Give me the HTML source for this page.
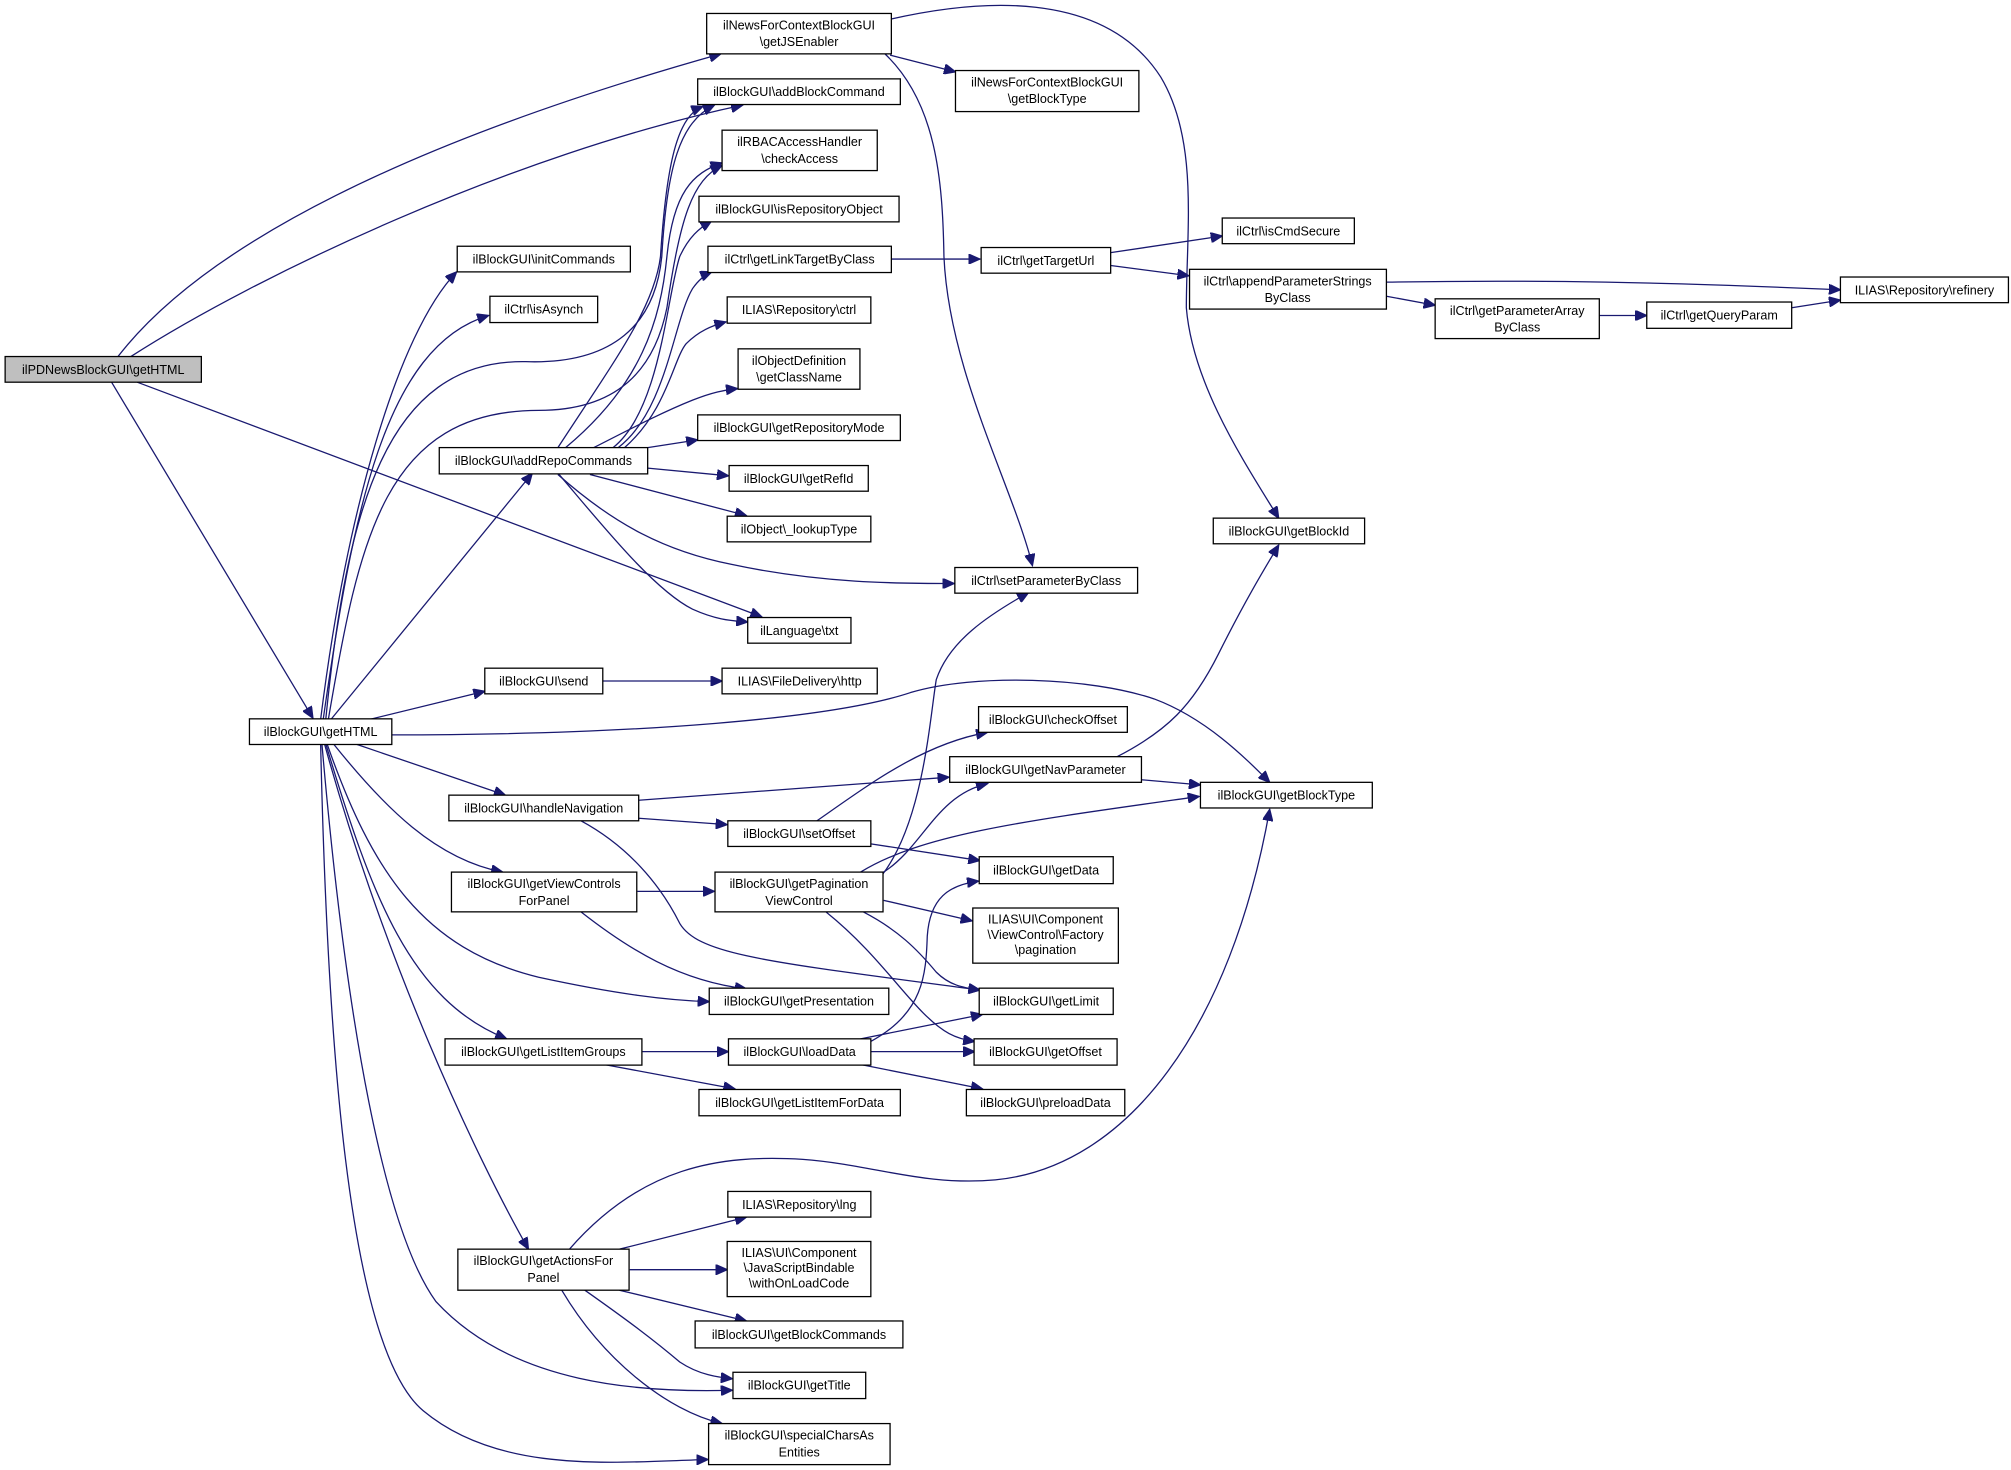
<!DOCTYPE html>
<html><head><meta charset="utf-8"><style>
html,body{margin:0;padding:0;background:#fff;}
svg{display:block;}
text{font-family:"Liberation Sans",Arial,sans-serif;font-size:9.8px;fill:#000;text-anchor:middle;}
rect{fill:#fff;stroke:#000;stroke-width:1;}
path{fill:none;stroke:#191970;stroke-width:1;}
</style></head><body>
<svg width="2011" height="1470" viewBox="0 0 1568 1146.2" preserveAspectRatio="none" xmlns="http://www.w3.org/2000/svg">
<defs><marker id="a" markerUnits="userSpaceOnUse" markerWidth="10" markerHeight="8" refX="9" refY="4" orient="auto"><path d="M0,0 L9,4 L0,8 Z" style="fill:#191970;stroke:#191970"/></marker></defs>
<g marker-end="url(#a)">
<path d="M92,278 C160,190 320,110 562,42"/>
<path d="M102,278 C200,215 400,120 579,82"/>
<path d="M107,298 L594,481"/>
<path d="M87,298 L244,560"/>
<path d="M250,561 C270,400 310,260 356,212"/>
<path d="M252,561 C275,400 300,270 381,246"/>
<path d="M254,561 C270,400 300,280 410,282 C470,284 510,260 516,200 C520,130 530,95 557,82"/>
<path d="M256,561 C280,420 300,320 420,320 C480,320 510,290 520,240 C530,170 540,140 563,129"/>
<path d="M258,561 L415,369"/>
<path d="M288,561 L378,539"/>
<path d="M305,573 C500,573 650,560 710,540 C760,525 850,528 900,545 C940,560 970,590 990,610"/>
<path d="M277,580 L394,620"/>
<path d="M260,580 C300,630 340,670 392,680"/>
<path d="M255,580 C290,680 330,740 420,762 C480,775 520,780 553,781"/>
<path d="M254,580 C290,700 320,780 395,810"/>
<path d="M253,580 C300,750 370,900 412,974"/>
<path d="M251,580 C270,800 300,960 340,1015 C400,1080 500,1086 571,1084"/>
<path d="M250,580 C255,800 270,1050 330,1100 C390,1150 480,1140 552,1138"/>
<path d="M435,349 C480,280 510,240 515,200 C520,120 530,90 548,83"/>
<path d="M441,349 C500,300 515,250 520,200 C525,150 540,135 563,127"/>
<path d="M478,349 C515,320 520,230 530,200 C537,185 545,178 555,172"/>
<path d="M482,349 C520,320 525,250 540,225 C545,218 550,214 555,212"/>
<path d="M487,349 C520,320 525,280 535,268 C545,258 555,254 566,251"/>
<path d="M463,349 C500,330 520,320 540,312 C555,306 565,304 575,303"/>
<path d="M505,349 L544,343"/>
<path d="M505,365 L568,371"/>
<path d="M460,370 L582,402"/>
<path d="M435,370 C480,410 520,430 570,440 C640,455 700,455 744,455"/>
<path d="M436,370 C470,410 510,460 540,475 C560,484 572,484 583,485"/>
<path d="M694,43 L745,56"/>
<path d="M694,15 C760,0 860,-10 905,60 C935,110 925,180 925,240 C930,300 970,360 997,404"/>
<path d="M690,42 C730,80 735,140 736,200 C740,290 790,380 805,441"/>
<path d="M695,202 L764,202"/>
<path d="M866,197 L953,184"/>
<path d="M866,207 L927,215"/>
<path d="M1081,220 C1200,218 1300,220 1435,226"/>
<path d="M1081,231 L1119,238"/>
<path d="M1247,246 L1284,246"/>
<path d="M1397,240 L1435,234"/>
<path d="M470,531 L563,531"/>
<path d="M498,624 L740,606"/>
<path d="M498,638 L567,643"/>
<path d="M453,640 C490,660 515,690 530,720 C545,745 600,750 764,772"/>
<path d="M637,640 C680,610 720,580 770,571"/>
<path d="M679,658 L764,671"/>
<path d="M497,695 L557,695"/>
<path d="M453,711 C490,740 530,765 582,771"/>
<path d="M689,680 C720,660 730,620 770,611"/>
<path d="M671,680 C720,650 800,640 935,621"/>
<path d="M688,682 C720,640 725,560 730,530 C740,500 770,480 802,462"/>
<path d="M679,812 C720,790 722,760 723,730 C725,700 740,690 763,687"/>
<path d="M689,702 L758,718"/>
<path d="M673,711 C700,725 715,740 730,758 C740,768 750,770 764,772"/>
<path d="M644,711 C680,740 700,770 720,790 C735,805 745,810 760,812"/>
<path d="M890,608 L936,612"/>
<path d="M871,590 C910,570 930,550 950,510 C970,470 985,445 997,425"/>
<path d="M501,820 L568,820"/>
<path d="M471,830 L573,849"/>
<path d="M671,810 L766,791"/>
<path d="M679,820 L760,820"/>
<path d="M671,830 L766,849"/>
<path d="M444,974 C500,910 560,900 626,904 C680,908 720,925 776,920 C880,910 960,800 990,631"/>
<path d="M483,974 L582,949"/>
<path d="M491,990 L567,990"/>
<path d="M483,1006 L582,1030"/>
<path d="M456,1006 C490,1030 510,1045 530,1062 C545,1072 560,1074 571,1075"/>
<path d="M438,1006 C470,1060 520,1100 563,1110"/>
</g>
<rect x="4" y="278" width="153" height="20" style="fill:#bfbfbf"/><text x="80.5" y="291.5">ilPDNewsBlockGUI\getHTML</text>
<rect x="194.5" y="560.5" width="111" height="20"/><text x="250" y="574">ilBlockGUI\getHTML</text>
<rect x="551" y="10.5" width="144" height="31.5"/><text x="623" y="23">ilNewsForContextBlockGUI</text><text x="623" y="36">\getJSEnabler</text>
<rect x="544" y="61.5" width="158" height="20"/><text x="623" y="75">ilBlockGUI\addBlockCommand</text>
<rect x="563" y="101.5" width="121" height="31.5"/><text x="623.5" y="114">ilRBACAccessHandler</text><text x="623.5" y="127">\checkAccess</text>
<rect x="545" y="153" width="156" height="20"/><text x="623" y="166.5">ilBlockGUI\isRepositoryObject</text>
<rect x="552" y="192" width="143" height="20.5"/><text x="623.5" y="205.5">ilCtrl\getLinkTargetByClass</text>
<rect x="567" y="231.5" width="112" height="20.5"/><text x="623" y="245">ILIAS\Repository\ctrl</text>
<rect x="575.5" y="272" width="95" height="31.5"/><text x="623" y="284.5">ilObjectDefinition</text><text x="623" y="297.5">\getClassName</text>
<rect x="544" y="323.5" width="158" height="20"/><text x="623" y="337">ilBlockGUI\getRepositoryMode</text>
<rect x="568.5" y="363" width="108.5" height="20"/><text x="622.7" y="376.5">ilBlockGUI\getRefId</text>
<rect x="567" y="402.5" width="112" height="20"/><text x="623" y="416">ilObject\_lookupType</text>
<rect x="744.5" y="442.5" width="142.5" height="20"/><text x="815.7" y="456">ilCtrl\setParameterByClass</text>
<rect x="583" y="481.5" width="80.5" height="20"/><text x="623.2" y="495">ilLanguage\txt</text>
<rect x="356.5" y="192" width="135" height="20"/><text x="424" y="205.5">ilBlockGUI\initCommands</text>
<rect x="382" y="231" width="84" height="20.5"/><text x="424" y="244.5">ilCtrl\isAsynch</text>
<rect x="342.5" y="349" width="162.5" height="20.5"/><text x="423.7" y="362.5">ilBlockGUI\addRepoCommands</text>
<rect x="378" y="521" width="92" height="20"/><text x="424" y="534.5">ilBlockGUI\send</text>
<rect x="563" y="521" width="121" height="20"/><text x="623.5" y="534.5">ILIAS\FileDelivery\http</text>
<rect x="745" y="55" width="143" height="32"/><text x="816.5" y="67.5">ilNewsForContextBlockGUI</text><text x="816.5" y="80.5">\getBlockType</text>
<rect x="765" y="193" width="101" height="20"/><text x="815.5" y="206.5">ilCtrl\getTargetUrl</text>
<rect x="953" y="170" width="103" height="20"/><text x="1004.5" y="183.5">ilCtrl\isCmdSecure</text>
<rect x="927.5" y="210" width="153.5" height="31"/><text x="1004" y="222.5">ilCtrl\appendParameterStrings</text><text x="1004" y="235.5">ByClass</text>
<rect x="1435" y="216" width="131" height="20"/><text x="1500.5" y="229.5">ILIAS\Repository\refinery</text>
<rect x="1119" y="233" width="128" height="31"/><text x="1183" y="245.5">ilCtrl\getParameterArray</text><text x="1183" y="258.5">ByClass</text>
<rect x="1284" y="235.5" width="113" height="20.5"/><text x="1340.5" y="249">ilCtrl\getQueryParam</text>
<rect x="946" y="404" width="118" height="20"/><text x="1005" y="417.5">ilBlockGUI\getBlockId</text>
<rect x="763" y="551" width="116" height="20"/><text x="821" y="564.5">ilBlockGUI\checkOffset</text>
<rect x="740.5" y="590" width="149.5" height="20"/><text x="815.2" y="603.5">ilBlockGUI\getNavParameter</text>
<rect x="936" y="610" width="134" height="20"/><text x="1003" y="623.5">ilBlockGUI\getBlockType</text>
<rect x="350" y="620" width="148" height="20"/><text x="424" y="633.5">ilBlockGUI\handleNavigation</text>
<rect x="567.5" y="640" width="111.5" height="20"/><text x="623.2" y="653.5">ilBlockGUI\setOffset</text>
<rect x="763.5" y="668" width="104.5" height="21"/><text x="815.7" y="682">ilBlockGUI\getData</text>
<rect x="352" y="680" width="144.5" height="31"/><text x="424.2" y="692.5">ilBlockGUI\getViewControls</text><text x="424.2" y="705.5">ForPanel</text>
<rect x="557.5" y="680" width="131" height="31"/><text x="623" y="692.5">ilBlockGUI\getPagination</text><text x="623" y="705.5">ViewControl</text>
<rect x="758.5" y="708" width="113.5" height="43"/><text x="815.2" y="720">ILIAS\UI\Component</text><text x="815.2" y="732">\ViewControl\Factory</text><text x="815.2" y="744">\pagination</text>
<rect x="553" y="770.5" width="140" height="20.5"/><text x="623" y="784">ilBlockGUI\getPresentation</text>
<rect x="763.5" y="770.5" width="104.5" height="20.5"/><text x="815.7" y="784">ilBlockGUI\getLimit</text>
<rect x="347" y="810" width="153.5" height="20.5"/><text x="423.7" y="823.5">ilBlockGUI\getListItemGroups</text>
<rect x="568" y="810" width="111" height="20.5"/><text x="623.5" y="823.5">ilBlockGUI\loadData</text>
<rect x="759.5" y="810" width="111.5" height="20.5"/><text x="815.2" y="823.5">ilBlockGUI\getOffset</text>
<rect x="545" y="849.5" width="157" height="20.5"/><text x="623.5" y="863">ilBlockGUI\getListItemForData</text>
<rect x="753.5" y="849.5" width="123.5" height="20.5"/><text x="815.2" y="863">ilBlockGUI\preloadData</text>
<rect x="567.5" y="929" width="111.5" height="20"/><text x="623.2" y="942.5">ILIAS\Repository\lng</text>
<rect x="567" y="968" width="112" height="43"/><text x="623" y="980">ILIAS\UI\Component</text><text x="623" y="992">\JavaScriptBindable</text><text x="623" y="1004">\withOnLoadCode</text>
<rect x="357" y="974" width="133.5" height="32"/><text x="423.7" y="986.5">ilBlockGUI\getActionsFor</text><text x="423.7" y="999.5">Panel</text>
<rect x="542" y="1030" width="162" height="21"/><text x="623" y="1044">ilBlockGUI\getBlockCommands</text>
<rect x="571.5" y="1070" width="103.5" height="20.5"/><text x="623.2" y="1083.5">ilBlockGUI\getTitle</text>
<rect x="552.5" y="1110" width="141.5" height="32"/><text x="623.2" y="1122.5">ilBlockGUI\specialCharsAs</text><text x="623.2" y="1135.5">Entities</text>
</svg>
</body></html>
